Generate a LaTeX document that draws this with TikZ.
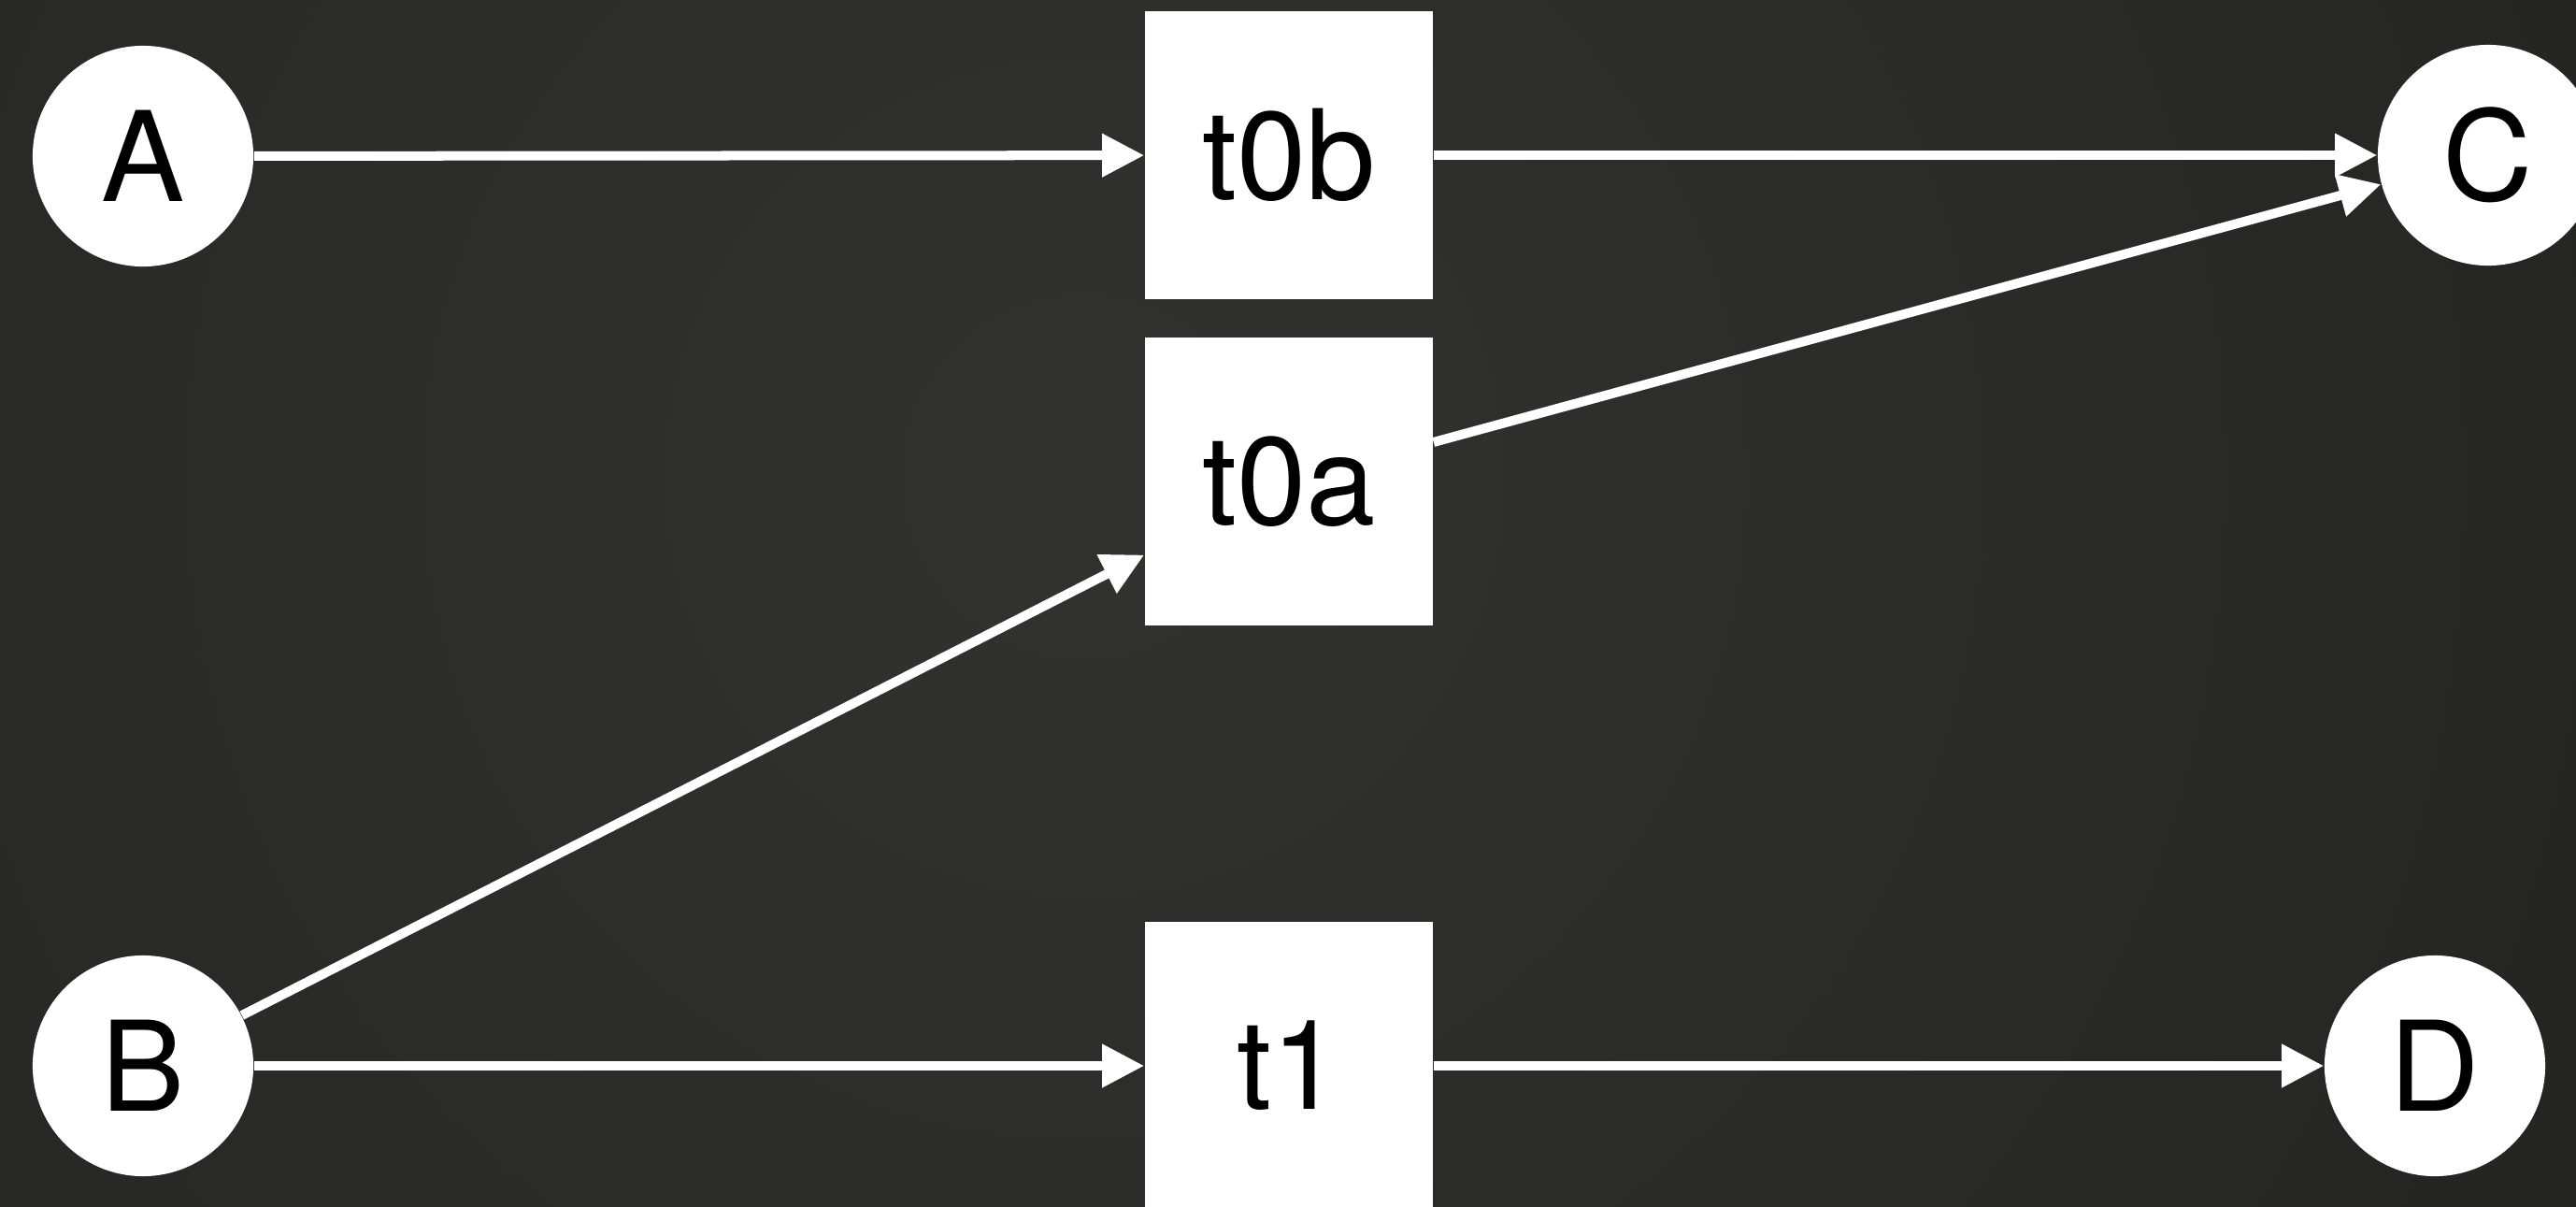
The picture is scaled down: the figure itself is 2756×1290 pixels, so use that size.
\documentclass[tikz,border=0pt]{standalone}
\usepackage{fontspec}
\setmainfont{TeX Gyre Heros}
\usetikzlibrary{arrows.meta}
\definecolor{bgin}{RGB}{50,51,48}
\definecolor{bgout}{RGB}{29,30,28}
\begin{document}
\begin{tikzpicture}[x=0.01cm,y=-0.01cm,
  circ/.style={circle,fill=white,minimum size=2.36cm,inner sep=0pt,text=black,font=\fontsize{38}{40}\selectfont},
  sq/.style={rectangle,fill=white,minimum width=3.08cm,minimum height=3.07cm,inner sep=0pt,text=black,font=\fontsize{38}{40}\selectfont},
  link/.style={draw=white,line width=0.1cm,-{Triangle[length=0.45cm,width=0.44cm]}}]
\useasboundingbox (0,0) rectangle (2756,1290);
\clip (0,0) rectangle (2756,1290);
\fill[bgout] (0,0) rectangle (2756,1290);
\shade[inner color=bgin,outer color=bgout] (1160,510) circle (2700);
\node[circ] (A) at (153,167) {A};
\node[circ] (B) at (153,1140) {B};
\node[circ] (C) at (2662,166) {C};
\node[circ] (D) at (2605,1140) {D};
\node[sq] (t0b) at (1379,166) {t0b};
\node[sq] (t0a) at (1379,515) {t0a};
\node[sq] (t1) at (1379,1140) {t1};
\draw[link] (A) -- (t0b);
\draw[link] (t0b) -- (C);
\draw[link] (t0a) -- (C);
\draw[link] (B) -- (t0a);
\draw[link] (B) -- (t1);
\draw[link] (t1) -- (D);
\end{tikzpicture}
\end{document}
